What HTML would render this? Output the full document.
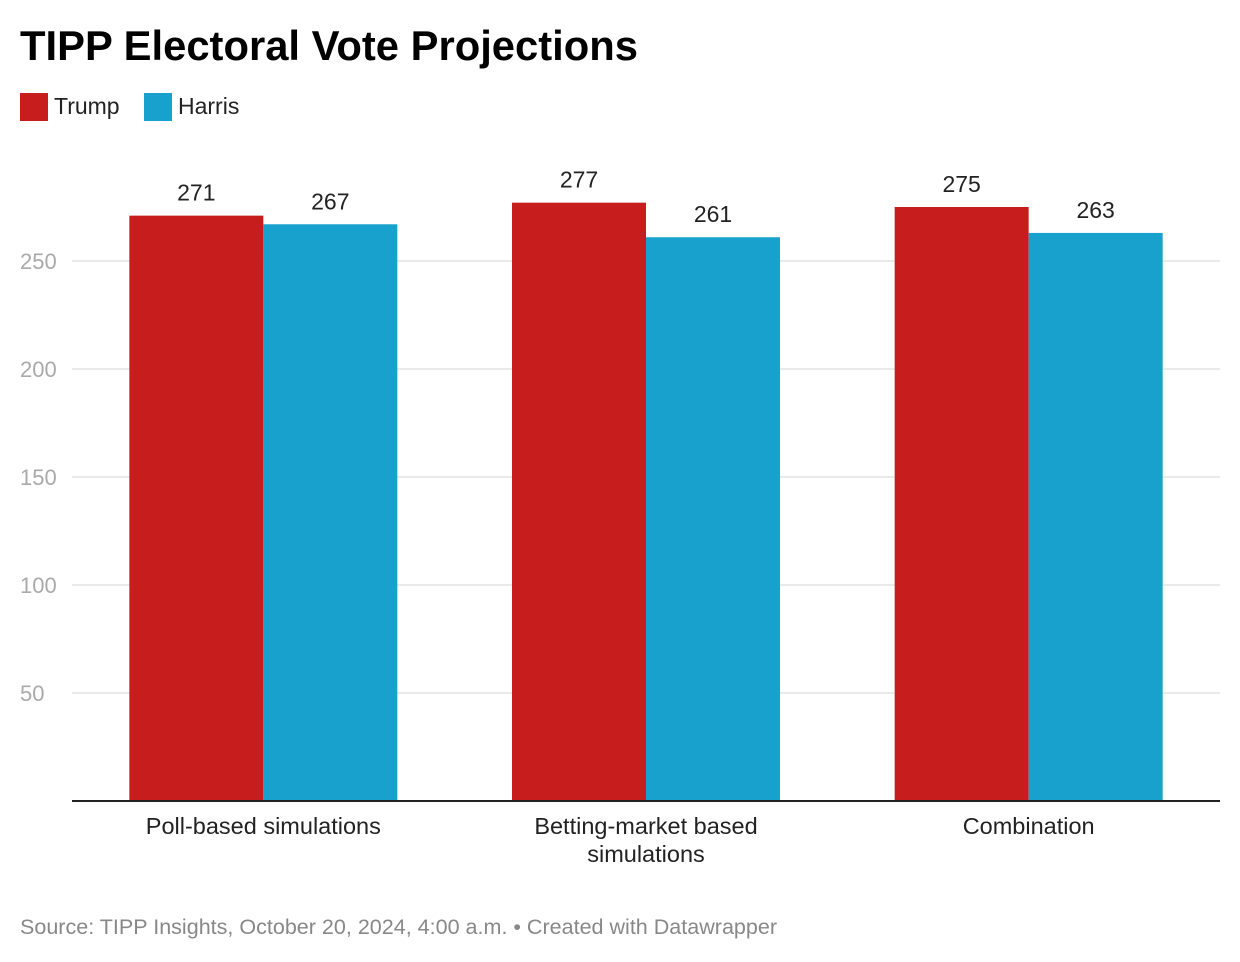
<!DOCTYPE html>
<html><head><meta charset="utf-8">
<style>
body{margin:0;background:#fff;font-family:"Liberation Sans",Arial,sans-serif;}
#wrap{position:relative;width:1240px;height:962px;overflow:hidden;}
</style></head>
<body>
<div id="wrap">
<svg id="chart" width="1240" height="962">
<text x="20" y="60" font-size="42" font-weight="bold" fill="#000" textLength="618" lengthAdjust="spacingAndGlyphs">TIPP Electoral Vote Projections</text>
<g>
<rect x="20" y="93" width="28" height="28" fill="#c71e1d"/>
<text x="54" y="114" font-size="23" fill="#222">Trump</text>
<rect x="144" y="93" width="28" height="28" fill="#18a1cd"/>
<text x="178" y="114" font-size="23" fill="#222">Harris</text>
</g>
<g id="grid"></g><g id="bars"></g><g id="labels"></g>
<line x1="72" x2="1220" y1="801" y2="801" stroke="#222" stroke-width="2"/>
<text x="20" y="934" font-size="21" fill="#888" textLength="757" lengthAdjust="spacingAndGlyphs">Source: TIPP Insights, October 20, 2024, 4:00 a.m. • Created with Datawrapper</text>
</svg>
</div>
<script>
const categories=[["Poll-based simulations"],["Betting-market based","simulations"],["Combination"]];
const trump=[271,277,275];
const harris=[267,261,263];
const ticks=[50,100,150,200,250];
const NS="http://www.w3.org/2000/svg";
const x0=72,x1=1220,y0=801,pxPer=2.16;
const y=v=>y0-v*pxPer;
const band=(x1-x0)/categories.length;
const bw=134;
function mk(t,a,p){const e=document.createElementNS(NS,t);for(const k in a)e.setAttribute(k,a[k]);p.appendChild(e);return e;}
const grid=document.getElementById('grid'),bars=document.getElementById('bars'),labels=document.getElementById('labels');
ticks.forEach(t=>{
 const l=mk('line',{x1:x0,x2:x1,y1:y(t),y2:y(t),stroke:'#e3e3e3','stroke-width':1.5},grid);
 
 
 const tx=mk('text',{x:20,y:y(t)+8,'font-size':22,fill:'#aaa'},grid);
 tx.textContent=t;
 
 
});
categories.forEach((c,i)=>{
 const cx=x0+band*(i+0.5);
 [[trump[i],'#c71e1d','trump',cx-bw],[harris[i],'#18a1cd','harris',cx]].forEach(([v,col,nm,bx])=>{
  const r=mk('rect',{x:bx,y:y(v),width:bw,height:y0-y(v),fill:col},bars);
  
  
  const t=mk('text',{x:bx+bw/2,y:y(v)-15,'font-size':23,fill:'#222','text-anchor':'middle'},labels);
  t.textContent=v;
  
  
 });
 c.forEach((line,j)=>{
  const t=mk('text',{x:cx,y:834+j*28,'font-size':23.5,fill:'#222','text-anchor':'middle'},labels);
  t.textContent=line;
  
  
 });
});
</script>
</body></html>
